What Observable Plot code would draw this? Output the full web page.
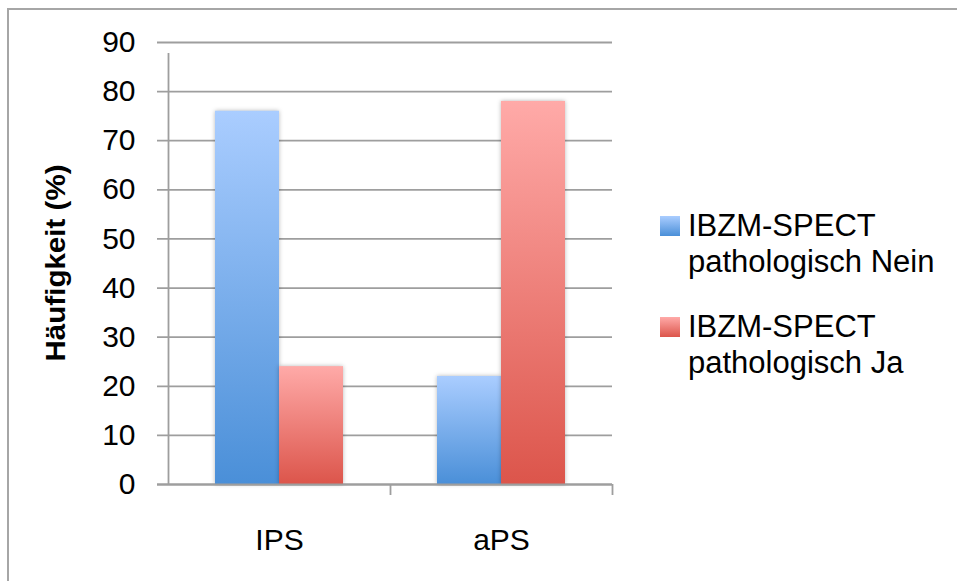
<!DOCTYPE html>
<html><head><meta charset="utf-8">
<script src="https://cdn.jsdelivr.net/npm/d3@7"></script>
<script src="https://cdn.jsdelivr.net/npm/@observablehq/plot@0.6"></script>
<style>
body{margin:0;background:#fff;font-family:"Liberation Sans",Arial,Helvetica,sans-serif;}
#wrap{position:relative;width:957px;height:581px;overflow:hidden;background:#fff;}
#border{position:absolute;left:7px;top:8px;width:1000px;height:1000px;border-top:2px solid #a6a6a6;border-left:2px solid #a6a6a6;}
#chart{position:absolute;left:0;top:0;}
.entry{position:absolute;left:660px;font-size:31px;line-height:36px;color:#000;}
.entry .sw{position:absolute;left:0;width:20px;height:20px;}
.entry .tx{position:absolute;left:28px;white-space:nowrap;}
</style></head>
<body>
<div id="wrap"><div id="border"></div><div id="chart"></div><div id="legend"></div></div>
<script>
// ---- data ----
const categories = ["IPS", "aPS"];
const seriesNames = ["IBZM-SPECT pathologisch Nein", "IBZM-SPECT pathologisch Ja"];
const seriesLines = [["IBZM-SPECT", "pathologisch Nein"], ["IBZM-SPECT", "pathologisch Ja"]];
const valuesNein = [76, 22];
const valuesJa = [24, 78];
const yTicks = [0, 10, 20, 30, 40, 50, 60, 70, 80, 90];
const yTitle = "Häufigkeit (%)";

const gradients = [
  {id: "gBlue", top: "#aacdff", bottom: "#4a8fd8"},
  {id: "gRed", top: "#ffaaa8", bottom: "#dc554b"}
];

const dataNein = categories.map((c, i) => ({category: c, value: valuesNein[i]}));
const dataJa = categories.map((c, i) => ({category: c, value: valuesJa[i]}));

const W = 957, H = 581, mL = 168, mR = 345, mT = 42, mB = 97;
const bw = (W - mL - mR) / categories.length;
const barW = 64;
const ins = (bw - barW) / 2;
const gridColor = "#9e9e9e";

const plot = Plot.plot({
  width: W, height: H,
  marginLeft: mL, marginRight: mR, marginTop: mT, marginBottom: mB,
  style: {fontFamily: '"Liberation Sans", Arial, sans-serif', color: "#000", background: "transparent"},
  x: {domain: categories, padding: 0, axis: null},
  y: {domain: [0, 90], axis: null},
  marks: [
    Plot.ruleY(yTicks, {y: d => d, stroke: gridColor, strokeWidth: 1.8, insetLeft: -11}),
    Plot.ruleX(categories.slice(0, 1), {x: d => d, y1: 0, y2: 90, dx: -bw / 2, stroke: gridColor, strokeWidth: 1.8, insetBottom: -11}),
    Plot.ruleX(categories, {x: d => d, y1: 0, y2: 0, dx: bw / 2, stroke: gridColor, strokeWidth: 1.8, insetBottom: -11}),
    Plot.barY(dataNein, {x: "category", y: "value", fill: "url(#gBlue)", dx: -barW / 2, insetLeft: ins, insetRight: ins}),
    Plot.barY(dataJa, {x: "category", y: "value", fill: "url(#gRed)", dx: barW / 2, insetLeft: ins, insetRight: ins}),
    Plot.ruleY([0], {y: d => d, stroke: gridColor, strokeWidth: 1.8, insetLeft: -11}),
    Plot.axisY({ticks: yTicks, tickSize: 0, tickPadding: 33, fontSize: 30, label: null}),
    Plot.axisX({tickSize: 0, tickPadding: 44, fontSize: 30, label: null})
  ]
});

const svg = d3.select(plot);
const defs = svg.insert("defs", ":first-child");
gradients.forEach(g => {
  const lg = defs.append("linearGradient").attr("id", g.id).attr("x1", 0).attr("y1", 0).attr("x2", 0).attr("y2", 1);
  lg.append("stop").attr("offset", "0%").attr("stop-color", g.top);
  lg.append("stop").attr("offset", "100%").attr("stop-color", g.bottom);
});
svg.selectAll('g[aria-label="bar"]').style("filter", "drop-shadow(0px 0px 2px rgba(0,0,0,0.28))");
svg.append("text")
  .attr("transform", `translate(65,${(mT + (H - mB)) / 2}) rotate(-90)`)
  .attr("text-anchor", "middle")
  .attr("font-weight", "bold")
  .attr("font-size", 28)
  .attr("textLength", 197)
  .attr("lengthAdjust", "spacingAndGlyphs")
  .attr("fill", "#000")
  .text(yTitle);

document.getElementById("chart").appendChild(plot);

const legend = document.getElementById("legend");
const tops = [208, 309];
seriesLines.forEach((lines, i) => {
  const e = document.createElement("div");
  e.className = "entry";
  e.style.top = tops[i] + "px";
  e.setAttribute("title", seriesNames[i]);
  const sw = document.createElement("div");
  sw.className = "sw";
  sw.style.top = "8px";
  sw.style.background = `linear-gradient(${gradients[i].top}, ${gradients[i].bottom})`;
  const tx = document.createElement("div");
  tx.className = "tx";
  tx.innerHTML = lines.join("<br>");
  e.appendChild(sw); e.appendChild(tx);
  legend.appendChild(e);
});
</script>
</body></html>
